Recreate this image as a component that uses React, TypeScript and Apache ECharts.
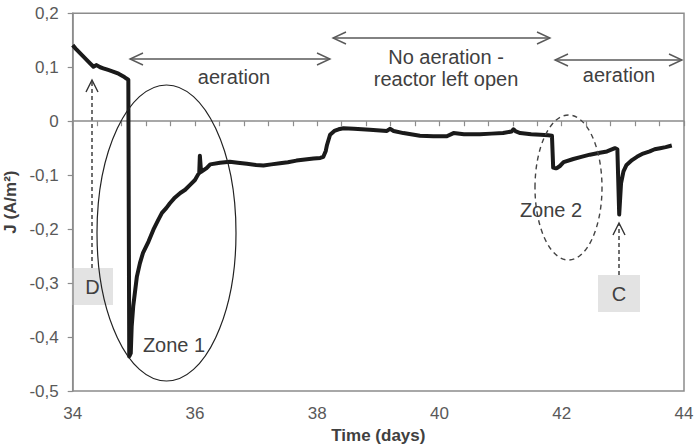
import React, { useEffect, useRef } from "react";
import * as echarts from "echarts";

// Current density J (A/m²) versus time (days)
const days = [
  34.0, 34.06, 34.12, 34.2, 34.26, 34.34, 34.39, 34.45, 34.5, 34.58, 34.66, 34.75, 34.83, 34.88, 34.91,
  34.925, 34.95, 34.965, 34.99, 35.05, 35.1, 35.15, 35.24, 35.32, 35.4, 35.46, 35.53, 35.59, 35.66, 35.76,
  35.84, 35.92, 36.0, 36.05, 36.07, 36.08, 36.1, 36.19, 36.25, 36.41, 36.57, 36.7, 36.85, 37.0, 37.12,
  37.25, 37.39, 37.52, 37.66, 37.8, 37.94, 38.05, 38.1, 38.14, 38.16, 38.21, 38.28, 38.35, 38.43, 38.6,
  38.86, 39.14, 39.19, 39.25, 39.41, 39.68, 39.9, 40.12, 40.23, 40.4, 40.66, 40.85, 41.04, 41.18, 41.21,
  41.25, 41.32, 41.5, 41.65, 41.78, 41.84, 41.86, 41.89, 41.92, 41.97, 42.03, 42.19, 42.32, 42.46, 42.6,
  42.74, 42.87, 42.91, 42.94, 42.97, 43.01, 43.06, 43.15, 43.23, 43.33, 43.44, 43.52, 43.61, 43.7, 43.8,
];
const current = [
  0.141, 0.133, 0.126, 0.117, 0.11, 0.101, 0.104, 0.1, 0.098, 0.095, 0.092, 0.088, 0.083, 0.079, 0.077,
  -0.436, -0.43, -0.38, -0.343, -0.288, -0.263, -0.244, -0.223, -0.201, -0.183, -0.17, -0.161, -0.152, -0.143, -0.133,
  -0.127, -0.118, -0.109, -0.099, -0.096, -0.064, -0.094, -0.087, -0.08, -0.077, -0.075, -0.077, -0.079, -0.081, -0.082,
  -0.08, -0.078, -0.076, -0.073, -0.071, -0.069, -0.068, -0.066, -0.055, -0.044, -0.025, -0.018, -0.015, -0.013, -0.014,
  -0.016, -0.018, -0.014, -0.018, -0.022, -0.027, -0.028, -0.028, -0.022, -0.024, -0.024, -0.023, -0.022, -0.019, -0.015,
  -0.019, -0.022, -0.024, -0.025, -0.026, -0.027, -0.086, -0.087, -0.087, -0.083, -0.076, -0.07, -0.066, -0.062, -0.059,
  -0.056, -0.05, -0.052, -0.173, -0.115, -0.093, -0.081, -0.072, -0.066, -0.06, -0.056, -0.052, -0.05, -0.048, -0.045,
];

const xMin = 34;
const xMax = 44;
const xStep = 2;
const yMin = -0.5;
const yMax = 0.2;
const yStep = 0.1;

const periodLabels = ["aeration", "No aeration -\nreactor left open", "aeration"];
const zoneLabels = ["Zone 1", "Zone 2"];
const markerLabels = ["D", "C"];
const xTitle = "Time (days)";
const yTitle = "J (A/m²)";

const FONT = '"Liberation Sans", Arial, Helvetica, sans-serif';
const AXIS = "#8c8c8c";
const TEXT = "#404040";
const ARROW = "#595959";

function doubleArrow(x1: number, x2: number, y: number) {
  const h = 13;
  const w = 6;
  const ls = { stroke: ARROW, lineWidth: 1.4, fill: "none" };
  return {
    type: "group",
    children: [
      { type: "line", shape: { x1, y1: y, x2, y2: y }, style: ls },
      { type: "polyline", shape: { points: [[x1 + h, y - w], [x1, y], [x1 + h, y + w]] }, style: ls },
      { type: "polyline", shape: { points: [[x2 - h, y - w], [x2, y], [x2 - h, y + w]] }, style: ls },
    ],
  };
}

function dashedUpArrow(x: number, yBottom: number, yTop: number) {
  const ls = { stroke: "#333", lineWidth: 1.4, fill: "none" };
  return {
    type: "group",
    children: [
      { type: "line", shape: { x1: x, y1: yBottom, x2: x, y2: yTop + 1 }, style: { ...ls, lineDash: [4, 3] } },
      { type: "polyline", shape: { points: [[x - 6, yTop + 12], [x, yTop], [x + 6, yTop + 12]] }, style: ls },
    ],
  };
}

function markerBox(x: number, y: number, w: number, h: number, label: string) {
  return {
    type: "group",
    z: 20,
    children: [
      { type: "rect", shape: { x, y, width: w, height: h }, style: { fill: "#e3e3e3" } },
      {
        type: "text",
        x: x + w / 2,
        y: y + h / 2,
        style: { text: label, font: `20px ${FONT}`, fill: TEXT, align: "center", verticalAlign: "middle" },
      },
    ],
  };
}

function label(x: number, y: number, text: string) {
  return {
    type: "text",
    x,
    y,
    z: 15,
    style: {
      text,
      font: `20px ${FONT}`,
      fill: TEXT,
      align: "center",
      verticalAlign: "middle",
      lineHeight: 22,
    },
  };
}

export default function App() {
  const ref = useRef<HTMLDivElement>(null);

  useEffect(() => {
    if (!ref.current) return;
    const chart = echarts.init(ref.current, undefined, { renderer: "svg" });
    const fmt = (v: number) => (Math.abs(v) < 1e-9 ? "0" : v.toFixed(1).replace(".", ","));

    chart.setOption({
      animation: false,
      backgroundColor: "#ffffff",
      grid: {
        left: 72.7,
        right: 16,
        top: 13.3,
        bottom: 56,
        containLabel: false,
        outerBoundsMode: "none",
        show: true,
        borderColor: AXIS,
        borderWidth: 1.5,
      },
      xAxis: {
        type: "value",
        min: xMin,
        max: xMax,
        interval: xStep,
        axisLine: { show: true, lineStyle: { color: AXIS, width: 1.5 } },
        axisTick: { show: true, length: 5, lineStyle: { color: AXIS, width: 1.2 } },
        minorTick: { show: true, splitNumber: 5, length: 5, lineStyle: { color: AXIS, width: 1.2 } },
        splitLine: { show: false },
        axisLabel: { color: "#595959", fontSize: 17, margin: 14, fontFamily: FONT },
        name: xTitle,
        nameLocation: "middle",
        nameGap: 36,
        nameTextStyle: { fontWeight: "bold", fontSize: 17, color: TEXT, fontFamily: FONT },
      },
      yAxis: {
        type: "value",
        min: yMin,
        max: yMax,
        interval: yStep,
        axisLine: { show: true, lineStyle: { color: AXIS, width: 1.5 } },
        axisTick: { show: true, length: 5, lineStyle: { color: AXIS, width: 1.2 } },
        splitLine: { show: false },
        axisLabel: { color: "#595959", fontSize: 17, margin: 14, fontFamily: FONT, formatter: fmt },
        name: yTitle,
        nameLocation: "middle",
        nameGap: 48,
        nameTextStyle: { fontWeight: "bold", fontSize: 17, color: TEXT, fontFamily: FONT },
      },
      series: [
        {
          type: "line",
          data: days.map((d, i) => [d, current[i]]),
          symbol: "none",
          lineStyle: { color: "#1a1a1a", width: 4, join: "round" },
          z: 3,
        },
      ],
      graphic: [
        doubleArrow(130, 330, 59),
        doubleArrow(333, 550, 38),
        doubleArrow(555, 682, 60),
        label(234, 77, periodLabels[0]),
        label(446, 68, periodLabels[1]),
        label(619, 75, periodLabels[2]),
        {
          type: "ellipse",
          z: 10,
          shape: { cx: 166.5, cy: 233, rx: 69.5, ry: 148 },
          style: { fill: "none", stroke: "#222", lineWidth: 1.2 },
        },
        {
          type: "ellipse",
          z: 10,
          shape: { cx: 568.5, cy: 187.5, rx: 33.5, ry: 72.5 },
          style: { fill: "none", stroke: "#444", lineWidth: 1.4, lineDash: [5, 4] },
        },
        label(174, 345, zoneLabels[0]),
        label(551, 210, zoneLabels[1]),
        dashedUpArrow(92, 268, 80),
        dashedUpArrow(619, 275, 223),
        markerBox(72, 268, 41, 37, markerLabels[0]),
        markerBox(598, 275, 42, 37, markerLabels[1]),
      ],
    });

    return () => chart.dispose();
  }, []);

  return (
    <div
      ref={ref}
      style={{ position: "fixed", left: 0, top: 0, width: 700, height: 447 }}
    />
  );
}
